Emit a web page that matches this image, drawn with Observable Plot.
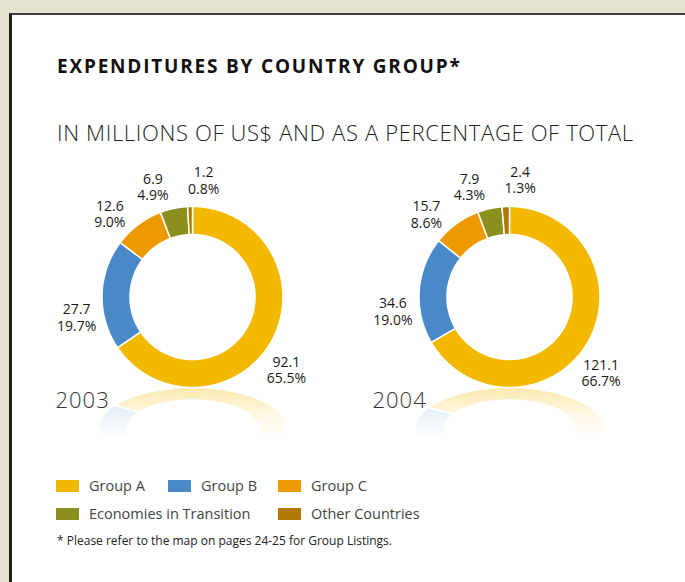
<!DOCTYPE html>
<html><head><meta charset="utf-8">
<script src="https://cdn.jsdelivr.net/npm/d3@7"></script>
<script src="https://cdn.jsdelivr.net/npm/@observablehq/plot@0.6"></script>
<style>
html,body{margin:0;padding:0}
body{background:#e4e1cc;width:685px;height:582px;overflow:hidden;position:relative;font-family:"Open Sans",sans-serif}
#panel{position:absolute;left:9px;top:13px;width:720px;height:620px;background:#fff;border-left:3px solid #1e1e1e;border-top:2px solid #3c3c3c;box-sizing:border-box}
#title{position:absolute;left:57px;top:57px;font-size:19px;line-height:19px;font-weight:700;letter-spacing:1.8px;color:#111;white-space:nowrap}
#subtitle{position:absolute;left:57px;top:120.5px;font-size:22px;line-height:22px;font-weight:300;letter-spacing:0.65px;color:#222;white-space:nowrap}
.chart{position:absolute;top:160px}
.chart svg{display:block;overflow:visible}
.sw{position:absolute;width:23px;height:12px}
.lt{position:absolute;font-size:14.5px;line-height:14.5px;color:#444;white-space:nowrap}
#note{position:absolute;left:57px;top:535.3px;font-size:12px;line-height:12px;color:#222;white-space:nowrap}
</style></head>
<body>
<div id="panel"></div>
<div id="title">EXPENDITURES BY COUNTRY GROUP*</div>
<div id="subtitle">IN MILLIONS OF US$ AND AS A PERCENTAGE OF TOTAL</div>
<div id="c2003" class="chart" style="left:34px"></div>
<div id="c2004" class="chart" style="left:351px"></div>
<div id="legend"></div>
<div id="note">* Please refer to the map on pages 24-25 for Group Listings.</div>
<script>
// ---- data ----
const groups = ["Group A", "Group B", "Group C", "Economies in Transition", "Other Countries"];
const colors = ["#f3b800", "#4a89c8", "#ec9a00", "#8a8f1e", "#b07800"];
const years = ["2003", "2004"];
const values2003 = [92.1, 27.7, 12.6, 6.9, 1.2];
const values2004 = [121.1, 34.6, 15.7, 7.9, 2.4];
const pct2003 = [65.5, 19.7, 9.0, 4.9, 0.8];
const pct2004 = [66.7, 19.0, 8.6, 4.3, 1.3];

// ---- layout constants ----
const W = 317, H = 280, CX = 158.5, CY = 137;
const R = 90.5, RI = 62.5, K = 0.45, RL = 118, TILT = 11, MINSEP = 25;

function spread(angles, minSep) {
  const a = angles.slice();
  for (let it = 0; it < 300; it++) {
    for (let i = 0; i < a.length - 1; i++) {
      const d = a[i + 1] - a[i];
      if (d < minSep) { const s = (minSep - d) / 2; a[i] -= s; a[i + 1] += s; }
    }
  }
  return a;
}

function donut(el, year, values, pcts) {
  const arcs = d3.pie().sort(null).startAngle(0).endAngle(2 * Math.PI)(values);
  const pts = [], refl = [];
  arcs.forEach((arc, i) => {
    const n = Math.max(2, Math.ceil((arc.endAngle - arc.startAngle) / 0.01));
    for (let j = 0; j <= n; j++) {
      const t = arc.startAngle + (arc.endAngle - arc.startAngle) * j / n;
      const s = Math.sin(t), c = Math.cos(t);
      pts.push({group: groups[i], xo: R * s, yo: R * c, xi: RI * s, yi: RI * c});
      refl.push({group: groups[i], xo: 1.04 * R * s, yo: -R - K * (R * c + R), xi: 1.04 * RI * s, yi: -R - K * (RI * c + R)});
    }
  });
  // label angles: mid-angle, tilted slightly toward the bottom, then spread apart
  const mids = arcs.map(a => (a.startAngle + a.endAngle) / 2);
  const tilted = mids.map(m => m * 180 / Math.PI + TILT * Math.sin(m));
  const la = spread(tilted, MINSEP);
  const labels = arcs.map((a, i) => {
    const t = la[i] * Math.PI / 180;
    return {x: RL * Math.sin(t), y: RL * Math.cos(t), text: `${values[i].toFixed(1)}\n${pcts[i].toFixed(1)}%`};
  });
  const svg = Plot.plot({
    width: W, height: H, margin: 0,
    x: {domain: [-CX, W - CX], axis: null},
    y: {domain: [-(H - CY), CY], axis: null},
    color: {domain: groups, range: colors},
    style: {background: "transparent", fontFamily: "'Open Sans', sans-serif", overflow: "visible"},
    marks: [
      Plot.area(refl, {x1: "xi", y1: "yi", x2: "xo", y2: "yo", z: "group", fill: "group", stroke: "white", strokeWidth: 1.5}),
      Plot.area(pts, {x1: "xi", y1: "yi", x2: "xo", y2: "yo", z: "group", fill: "group", stroke: "white", strokeWidth: 1.5}),
      Plot.text([year], {x: -137.5, y: -103.5, text: d => d, textAnchor: "start", fontSize: 22, fontWeight: 300, fill: "#333"}),
      Plot.text(labels, {x: "x", y: "y", text: "text", fontSize: 14, lineHeight: 1.18, fill: "#1a1a1a"})
    ]
  });
  // fading mask on the reflection (first area group)
  const sel = d3.select(svg);
  const defs = sel.insert("defs", ":first-child");
  const gid = "fadegrad" + year, mid = "fademask" + year;
  const top = CY + R;
  const g = defs.append("linearGradient").attr("id", gid).attr("gradientUnits", "userSpaceOnUse")
    .attr("x1", 0).attr("y1", top).attr("x2", 0).attr("y2", top + 50);
  g.append("stop").attr("offset", 0).attr("stop-color", "#fff").attr("stop-opacity", 0.32);
  g.append("stop").attr("offset", 0.5).attr("stop-color", "#fff").attr("stop-opacity", 0.12);
  g.append("stop").attr("offset", 1).attr("stop-color", "#fff").attr("stop-opacity", 0);
  defs.append("mask").attr("id", mid).attr("maskUnits", "userSpaceOnUse").attr("maskContentUnits", "userSpaceOnUse")
    .attr("x", -60).attr("y", 0).attr("width", W + 120).attr("height", H)
    .append("rect").attr("x", -60).attr("y", 0).attr("width", W + 120).attr("height", H).attr("fill", `url(#${gid})`);
  const areas = sel.selectAll('g[aria-label="area"]').nodes();
  if (areas.length) d3.select(areas[0]).attr("mask", `url(#${mid})`);
  sel.selectAll("text").filter(function () { return this.textContent === year; }).attr("letter-spacing", "1px");
  el.appendChild(svg);
}

donut(document.getElementById("c2003"), years[0], values2003, pct2003);
donut(document.getElementById("c2004"), years[1], values2004, pct2004);

// ---- legend ----
const legendCols = [56, 168, 278], legendRows = [480, 508];
const slots = [[0, 0], [0, 1], [0, 2], [1, 0], [1, 2]];
const leg = document.getElementById("legend");
groups.forEach((gname, i) => {
  const [r, c] = slots[i];
  const sw = document.createElement("div");
  sw.className = "sw"; sw.style.left = legendCols[c] + "px"; sw.style.top = legendRows[r] + "px"; sw.style.background = colors[i];
  const t = document.createElement("div");
  t.className = "lt"; t.textContent = gname; t.style.left = (legendCols[c] + 33) + "px"; t.style.top = (legendRows[r] - 0.9) + "px";
  leg.appendChild(sw); leg.appendChild(t);
});
</script>
</body></html>
